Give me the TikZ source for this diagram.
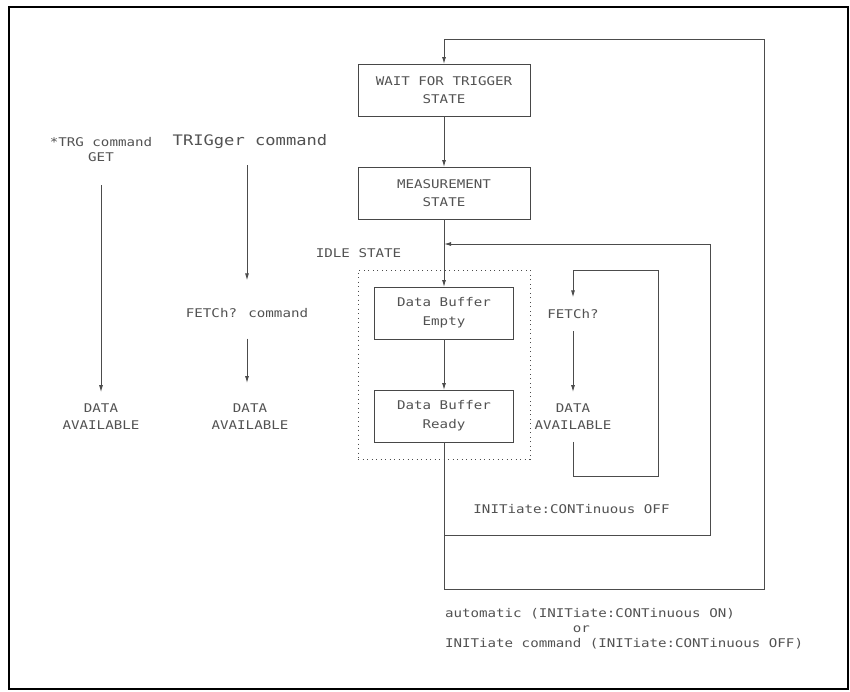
\documentclass[tikz,border=0pt]{standalone}
\usepackage{fontspec}
\newfontfamily\plotfont[FakeStretch=1.18]{DejaVu Sans Mono}
\usetikzlibrary{arrows.meta}
\begin{document}
\begin{tikzpicture}[x=1pt,y=-1pt,
  line/.style={draw=black!70,line width=0.9pt},
  arr/.style={line,-{Latex[length=7pt,width=4pt]}},
  txt/.style={inner sep=0pt,outer sep=0pt,align=center,text=black!68,font=\plotfont\fontsize{12}{15}\selectfont},
  stbox/.style={txt,draw=black!72,line width=0.95pt,minimum height=52pt},
]
\useasboundingbox (0,0) rectangle (850,691);
\draw[line width=2pt,black] (9,7) rectangle (848,689);

% main column
\node[stbox,minimum width=172pt,font=\plotfont\fontsize{12}{18}\selectfont] (wait) at (444,90) {WAIT FOR TRIGGER\\STATE};
\node[stbox,minimum width=172pt,font=\plotfont\fontsize{12}{18}\selectfont] (meas) at (444,193) {MEASUREMENT\\STATE};
\node[draw=black!70,dash pattern=on 1pt off 3.5pt,line width=1pt,minimum width=172pt,minimum height=189pt,inner sep=0pt] (idle) at (444,364.5) {};
\node[txt] (idlelbl) at (358.5,253) {IDLE STATE};
\node[stbox,minimum width=139pt,font=\plotfont\fontsize{12}{19}\selectfont] (empty) at (444,313) {Data Buffer\\Empty};
\node[stbox,minimum width=139pt,font=\plotfont\fontsize{12}{19}\selectfont] (ready) at (444,416) {Data Buffer\\Ready};

\coordinate (jin) at (444,244);
\coordinate (jout) at (444,535);
\coordinate (bl) at (444,589);
\coordinate (br) at (764,589);
\coordinate (tr) at (764,39);
\coordinate (ir1) at (710,535);
\coordinate (ir2) at (710,244);

\draw[arr] (wait) -- (meas);
\draw[arr] (meas) -- (empty);
\draw[arr] (empty) -- (ready);
\draw[arr] (ready.south) -- (bl) -- (br) -- (tr) -| (wait.north);
\draw[arr] (jout) -- (ir1) -- (ir2) -- (jin);

% FETCh loop
\node[txt] (fetch) at (573,314) {FETCh?};
\node[txt,font=\plotfont\fontsize{12}{17}\selectfont] (da3) at (573,416.5) {DATA\\AVAILABLE};
\coordinate (f1) at (658,476);
\coordinate (f2) at (658,270);
\draw[arr,shorten <=12.6pt,shorten >=11.6pt] (fetch) -- (da3);
\draw[arr,shorten <=12.6pt,shorten >=12pt] (da3.south) |- (f1) -- (f2) -| (fetch.north);

\node[txt] (icoff) at (571.5,509) {INITiate:CONTinuous OFF};

% left columns
\node[txt] (trg) at (101,150) {*TRG command\\GET};
\node[txt,font=\plotfont\fontsize{12}{17}\selectfont] (da1) at (101,416.5) {DATA\\AVAILABLE};
\draw[arr,shorten <=23pt,shorten >=11.5pt] (trg) -- (da1);

\node[txt,font=\plotfont\fontsize{14.5}{17}\selectfont] (trig) at (250,142) {TRIGger command};
\node[txt] (fetchc) at (247,313) {FETCh? command};
\node[txt,font=\plotfont\fontsize{12}{17}\selectfont] (da2) at (250,416.5) {DATA\\AVAILABLE};
\draw[arr,shorten <=16pt,shorten >=28pt] (trig.south -| fetchc.north) -- (fetchc.north);
\draw[arr,shorten <=21pt,shorten >=20.6pt] (fetchc.south) -- (fetchc.south |- da2.north);

% bottom text
\node[txt,align=left,anchor=west] (auto) at (445,629) {automatic (INITiate:CONTinuous ON)\\\phantom{xxxxxxxxxxxxxxx}or\\INITiate command (INITiate:CONTinuous OFF)};
\end{tikzpicture}
\end{document}
